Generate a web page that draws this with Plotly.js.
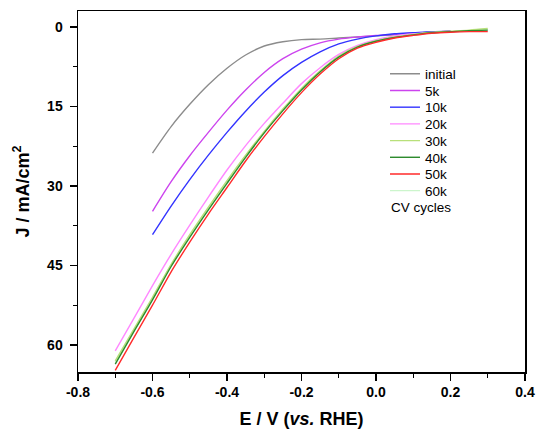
<!DOCTYPE html>
<html>
<head>
<meta charset="utf-8">
<script src="https://cdn.plot.ly/plotly-3.0.1.min.js"></script>
<style>html,body{margin:0;padding:0;background:#fff;}#chart{width:537px;height:429px;}</style>
</head>
<body>
<div id="chart"></div>
<script>
// Potential grids (V vs RHE)
var xShort = [-0.6, -0.55, -0.5, -0.45, -0.4, -0.35, -0.3, -0.25, -0.2, -0.15, -0.1, -0.05, 0, 0.05, 0.1, 0.15, 0.2];
var xLong = [-0.7, -0.65, -0.6, -0.55, -0.5, -0.45, -0.4, -0.35, -0.3, -0.25, -0.2, -0.15, -0.1, -0.05, 0, 0.05, 0.1, 0.15, 0.2, 0.25, 0.3];

// Current density J (mA/cm2)
var jInitial = [23.8, 18.8, 14.6, 10.9, 7.8, 5.3, 3.6, 2.8, 2.4, 2.3, 2.1, 1.9, 1.7, 1.5, 1.2, 1.0, 0.8];
var j5k  = [34.8, 29.2, 24.3, 19.9, 15.7, 11.9, 8.6, 6.0, 4.2, 3.0, 2.3, 1.9, 1.6, 1.4, 1.2, 1.0, 0.8];
var j10k = [39.2, 33.8, 28.8, 24.2, 19.9, 15.9, 12.3, 9.2, 6.7, 4.7, 3.2, 2.3, 1.7, 1.3, 1.1, 0.9, 0.8];
var j20k = [61.1, 55.0, 48.8, 42.9, 37.4, 32.1, 27.0, 22.4, 18.2, 14.4, 10.7, 7.7, 5.2, 3.5, 2.4, 1.7, 1.3, 1.1, 0.9, 0.8, 0.7];
var j30k = [63.0, 57.0, 51.0, 44.8, 39.2, 34.0, 29.0, 24.2, 19.7, 15.5, 11.6, 8.3, 5.5, 3.7, 2.6, 1.9, 1.4, 1.0, 0.8, 0.6, 0.3];
var j40k = [63.6, 57.5, 51.5, 45.2, 39.7, 34.5, 29.5, 24.6, 20.0, 15.8, 11.9, 8.5, 5.7, 3.8, 2.7, 2.0, 1.5, 1.1, 0.9, 0.7, 0.6];
var j50k = [64.8, 58.6, 52.5, 46.2, 40.6, 35.3, 30.3, 25.3, 20.7, 16.4, 12.4, 8.9, 6.0, 4.0, 2.9, 2.1, 1.6, 1.2, 1.0, 0.9, 0.9];
var j60k = [63.3, 57.3, 51.3, 45.0, 39.5, 34.3, 29.3, 24.4, 19.9, 15.7, 11.8, 8.4, 5.6, 3.8, 2.7, 2.0, 1.5, 1.1, 0.9, 0.7, 0.5];

var names = ["initial", "5k", "10k", "20k", "30k", "40k", "50k", "60k"];
var colors = ["#8c8c8c", "#cc44ee", "#3333ff", "#ff88ff", "#b8e07a", "#2e8b2e", "#ff2a2a", "#ccf5cc"];
var xs = [xShort, xShort, xShort, xLong, xLong, xLong, xLong, xLong];
var ys = [jInitial, j5k, j10k, j20k, j30k, j40k, j50k, j60k];

var fam = "Liberation Sans, Arial, sans-serif";
var legFont = {family: fam, size: 13.5, color: "#000"};
// one single-entry legend per trace so rows can sit as close as in the original
var legendIds = ["legend", "legend2", "legend3", "legend4", "legend5", "legend6", "legend7", "legend8"];
var rowTop = 74, rowStep = 16.7, plotTop = 11, plotH = 361;

var traces = names.map(function (n, i) {
  return {
    x: xs[i], y: ys[i], name: n, type: "scatter", mode: "lines",
    legend: legendIds[i],
    line: {color: colors[i], width: 1.4, shape: "spline", smoothing: 0.8}
  };
});
// drawing order: pale 60k beneath, red on top
var order = [0, 1, 2, 3, 7, 4, 5, 6];
var drawTraces = order.map(function (k) { return traces[k]; });

var layout = {
  width: 537, height: 429,
  margin: {l: 78, r: 12, t: 11, b: 57},
  paper_bgcolor: "#fff", plot_bgcolor: "#fff",
  showlegend: true,
  xaxis: {
    range: [-0.8, 0.4], tickmode: "array",
    tickvals: [-0.8, -0.6, -0.4, -0.2, 0, 0.2, 0.4],
    ticktext: ["-0.8", "-0.6", "-0.4", "-0.2", "0.0", "0.2", "0.4"],
    ticks: "outside", ticklen: 7, tickwidth: 1.3, tickcolor: "#000",
    minor: {dtick: 0.1, ticks: "outside", ticklen: 4, tickwidth: 1.3, tickcolor: "#000"},
    showline: true, linecolor: "#000", linewidth: 1.5, mirror: true,
    showgrid: false, zeroline: false,
    tickfont: {family: fam, size: 14, color: "#000", weight: "bold"},
    title: {text: "<b>E / V (<i>vs.</i> RHE)</b>", font: {family: fam, size: 18, color: "#000"}, standoff: 23}
  },
  yaxis: {
    range: [65.1, -3.0], tickmode: "linear", tick0: 0, dtick: 15,
    ticks: "outside", ticklen: 7, tickwidth: 1.3, tickcolor: "#000",
    minor: {dtick: 7.5, tick0: 0, ticks: "outside", ticklen: 4, tickwidth: 1.3, tickcolor: "#000"},
    showline: true, linecolor: "#000", linewidth: 1.5, mirror: true,
    showgrid: false, zeroline: false,
    tickfont: {family: fam, size: 14, color: "#000", weight: "bold"},
    ticklabelstandoff: 4,
    title: {text: "<b>J / mA/cm<sup>2</sup></b>", font: {family: fam, size: 18, color: "#000"}, standoff: 13}
  },
  annotations: [{
    xref: "paper", yref: "paper", x: 0.6957, y: 1 - (rowTop + 8 * rowStep - plotTop) / plotH,
    xanchor: "left", yanchor: "middle",
    text: "CV cycles", showarrow: false, font: legFont
  }]
};

legendIds.forEach(function (id, i) {
  layout[id] = {
    x: 0.6868, y: 1 - (rowTop + i * rowStep - plotTop) / plotH,
    xanchor: "left", yanchor: "middle",
    bgcolor: "rgba(0,0,0,0)", borderwidth: 0, font: legFont
  };
});

Plotly.newPlot("chart", drawTraces, layout, {staticPlot: true, displayModeBar: false});
</script>
</body>
</html>
